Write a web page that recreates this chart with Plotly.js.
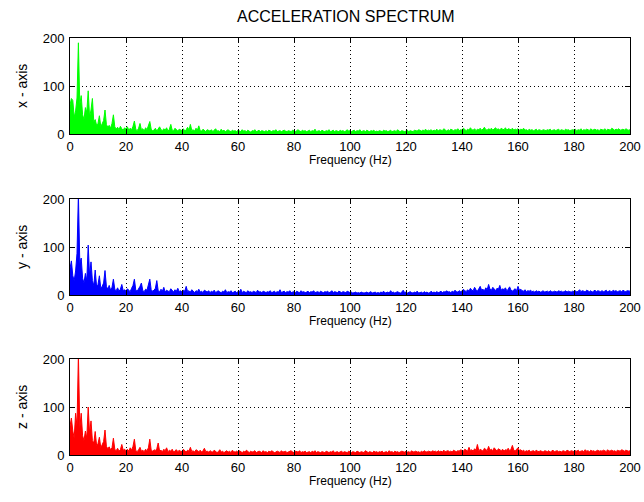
<!DOCTYPE html>
<html>
<head>
<meta charset="utf-8">
<script src="https://cdn.plot.ly/plotly-3.0.1.min.js"></script>
<style>html,body{margin:0;padding:0;background:#fff;}#chart{width:644px;height:502px;}</style>
</head>
<body>
<div id="chart"></div>
<script>
// Frequency grid: spectrum sampled every 0.5 Hz from 0 to 200 Hz
const freqStart = 0;
const freqStep = 0.5;

const xTickVals = [0, 20, 40, 60, 80, 100, 120, 140, 160, 180, 200];
const yTickVals = [0, 100, 200];

const seriesNames = ["x - axis", "y - axis", "z - axis"];
const xTitle = "Frequency (Hz)";
const seriesColors = ["#00ff00", "#0000ff", "#ff0000"];

// x-axis acceleration magnitude (one value per 0.5 Hz)
const accX = [
 60,74,70,35,48,75,190,60,80,40,30,55,45,90,35,50,74,25,30,18,
 22,38,15,20,28,50,20,14,18,12,22,40,15,10,14,9,16,11,8,13,
 10,15,8,12,9,16,27,10,7,12,22,9,11,6,13,9,18,26,10,7,
 8,12,6,10,15,9,7,11,8,13,6,10,20,8,7,12,9,6,10,8,
 7,11,6,9,14,8,20,7,9,6,12,8,17,7,6,10,8,5,9,7,
 6,9,5,8,11,6,7,5,10,6,8,5,7,9,6,5,8,6,7,5,
 8,6,5,9,6,7,5,8,6,4,7,6,9,5,6,8,5,7,6,5,
 7,5,8,6,5,7,6,9,5,6,7,5,6,8,6,5,7,6,5,8,
 6,5,7,9,6,5,8,6,7,5,6,8,5,7,6,10,5,6,7,5,
 8,6,5,7,6,9,5,6,8,5,7,6,5,8,6,7,5,6,9,6,
 7,5,6,8,5,7,6,9,5,6,7,5,8,6,5,7,6,8,5,6,
 5,7,6,5,8,6,7,5,6,8,5,6,7,5,9,6,5,7,6,5,
 6,8,5,7,6,5,8,7,6,9,7,6,8,7,10,6,8,7,9,6,
 8,7,10,6,9,8,7,11,8,6,9,7,10,8,7,9,8,11,7,9,
 8,12,9,7,10,8,13,9,8,11,7,10,9,12,8,10,14,9,8,11,
 9,12,8,10,13,9,11,8,12,10,9,13,8,11,10,9,12,8,10,9,
 11,8,10,9,12,8,9,7,10,8,9,7,8,10,7,9,8,7,9,8,
 7,9,8,10,7,8,9,7,8,10,7,9,8,7,10,8,9,7,8,9,
 8,10,7,9,8,11,7,9,8,10,9,7,11,8,9,10,8,9,7,10,
 9,8,11,7,10,9,8,12,9,8,10,9,11,8,9,10,8,11,9,8,
 9
];

// y-axis acceleration magnitude
const accY = [
 55,71,40,30,50,87,210,65,77,35,25,45,30,104,40,69,30,20,52,18,
 22,40,14,18,25,51,18,12,20,10,16,33,12,9,15,8,12,22,9,11,
 8,13,10,7,14,20,33,10,8,12,18,25,9,7,12,10,20,33,11,8,
 10,14,30,9,7,12,8,16,6,10,8,7,13,9,6,11,8,14,7,9,
 6,10,8,18,7,9,6,11,8,5,9,7,12,6,8,5,10,7,6,9,
 5,8,6,10,5,7,9,6,5,8,6,11,5,7,6,9,5,6,8,5,
 7,6,12,5,8,6,5,9,6,7,5,8,6,5,10,6,7,5,8,6,
 5,7,6,9,5,6,8,5,7,6,11,5,6,8,5,7,6,9,5,6,
 7,5,8,6,5,9,6,7,5,6,8,5,7,6,9,5,6,7,5,8,
 6,5,7,6,8,5,6,9,5,7,6,5,8,6,5,7,6,5,8,6,
 5,6,4,5,6,4,5,4,6,5,4,5,6,4,5,7,4,5,6,4,
 5,4,6,5,8,4,5,6,4,9,5,6,4,5,7,5,4,6,10,5,
 6,4,5,7,5,4,6,5,8,4,5,6,4,7,5,6,4,5,8,5,
 6,5,7,5,6,8,5,7,6,9,6,7,5,8,6,10,7,6,9,7,
 8,12,9,7,11,8,14,10,9,16,11,8,13,18,10,12,9,15,11,22,
 12,10,16,11,9,14,12,20,10,13,11,15,9,12,17,10,8,11,13,9,
 18,10,12,9,8,11,7,9,8,10,7,8,6,9,7,8,6,7,9,6,
 7,8,6,9,7,6,8,7,6,9,7,8,6,7,9,6,8,7,6,8,
 7,9,6,8,11,7,9,8,6,10,8,7,9,6,8,10,7,9,8,7,
 9,7,8,10,6,9,8,7,10,8,9,7,8,9,7,10,8,7,9,8,
 8
];

// z-axis acceleration magnitude
const accZ = [
 60,77,50,35,87,60,210,55,87,40,30,50,35,100,45,71,30,25,49,20,
 24,37,15,20,28,52,18,13,17,11,15,35,12,9,14,8,11,22,10,12,
 9,12,8,15,10,18,33,9,7,11,16,8,10,7,12,9,15,33,10,8,
 11,9,13,25,8,10,7,12,9,15,7,10,8,12,6,9,11,7,10,8,
 7,12,9,6,10,8,16,7,9,6,11,8,7,10,6,9,14,7,8,6,
 9,7,6,10,8,5,7,11,6,8,5,7,9,6,8,5,10,7,6,8,
 6,9,7,5,8,6,10,7,5,8,6,7,9,5,6,8,7,5,9,6,
 7,5,8,6,9,7,5,6,8,7,5,9,6,7,8,5,6,7,9,6,
 5,8,7,6,9,5,7,6,8,5,6,7,5,8,6,9,5,7,6,5,
 7,6,5,8,6,5,7,6,9,5,6,7,5,6,8,5,7,6,5,8,
 6,5,7,6,5,8,6,5,7,6,5,9,6,5,7,6,5,8,6,7,
 5,7,6,8,5,6,7,5,9,6,7,5,8,6,7,5,6,8,7,6,
 8,6,7,5,9,6,7,8,6,7,5,8,6,9,7,6,8,7,6,9,
 7,8,6,9,7,8,6,10,7,8,9,7,8,6,10,8,7,9,8,11,
 9,8,12,10,8,16,9,11,8,13,10,22,9,12,10,8,14,11,9,18,
 10,12,9,15,11,8,13,10,9,12,8,11,10,14,9,12,20,10,8,12,
 15,9,11,8,10,7,9,8,10,7,8,9,7,10,8,7,9,8,6,9,
 8,7,9,6,8,10,7,8,9,7,8,6,9,8,7,10,8,7,9,8,
 7,9,8,10,7,8,9,7,11,8,9,7,10,8,9,7,8,10,8,9,
 8,10,9,7,11,8,9,10,8,9,7,10,9,8,11,9,8,10,9,8,
 9
];

const allSeries = [accX, accY, accZ];
const font = "Liberation Sans, Arial, Helvetica, sans-serif";

const traces = allSeries.map((vals, i) => ({
  type: "scatter",
  mode: "lines",
  x0: freqStart,
  dx: freqStep,
  y: vals,
  xaxis: i === 0 ? "x" : "x" + (i + 1),
  yaxis: i === 0 ? "y" : "y" + (i + 1),
  line: {color: seriesColors[i], width: 1},
  fill: "tozeroy",
  fillcolor: seriesColors[i],
  hoverinfo: "skip",
  showlegend: false
}));

// pixel geometry of the three panels (plot area spans y 38..455, x 70..630)
const H = 417;
const panelTop = [38, 199, 359];
const panelBottom = [134, 295, 455];
const domains = panelTop.map((t, i) => [(455 - panelBottom[i]) / H, (455 - t) / H]);

function xAxis(i) {
  return {
    domain: [0, 1],
    anchor: i === 0 ? "y" : "y" + (i + 1),
    range: [0, 200],
    tickvals: xTickVals,
    ticktext: xTickVals.map(String),
    ticks: "inside",
    ticklen: 5,
    tickcolor: "#000",
    showline: true,
    linecolor: "#000",
    linewidth: 1,
    mirror: "ticks",
    showgrid: true,
    gridcolor: "#000",
    gridwidth: 1,
    griddash: "1px,3px",
    zeroline: false,
    tickfont: {family: font, size: 13, color: "#000"},
    automargin: false
  };
}
function yAxis(i) {
  return {
    domain: domains[i],
    anchor: i === 0 ? "x" : "x" + (i + 1),
    range: [0, 200],
    tickvals: yTickVals,
    ticktext: yTickVals.map(String),
    ticks: "inside",
    ticklen: 5,
    tickcolor: "#000",
    showline: true,
    linecolor: "#000",
    linewidth: 1,
    mirror: "ticks",
    showgrid: true,
    gridcolor: "#000",
    gridwidth: 1,
    griddash: "1px,3px",
    zeroline: false,
    ticklabelstandoff: 2,
    tickfont: {family: font, size: 13, color: "#000"},
    automargin: false
  };
}

const annotations = [];
for (let i = 0; i < 3; i++) {
  annotations.push({
    text: xTitle, xref: "paper", yref: "paper", x: 0.5,
    y: (455 - (panelBottom[i] + 26)) / H, xanchor: "center", yanchor: "middle",
    showarrow: false, font: {family: font, size: 12, color: "#000"}
  });
  annotations.push({
    text: seriesNames[i], xref: "paper", yref: "paper", x: (22 - 70) / 560,
    y: (455 - (panelTop[i] + panelBottom[i]) / 2) / H, xanchor: "center", yanchor: "middle",
    textangle: -90, showarrow: false, font: {family: font, size: 14, color: "#000"}
  });
}

const layout = {
  width: 644,
  height: 502,
  margin: {l: 70, r: 14, t: 38, b: 47},
  paper_bgcolor: "#fff",
  plot_bgcolor: "#fff",
  title: {text: "ACCELERATION SPECTRUM", font: {family: font, size: 16, color: "#000"}, x: 0.537, xanchor: "center", xref: "container", y: 0.968, yanchor: "middle", yref: "container"},
  showlegend: false,
  annotations: annotations,
  xaxis: xAxis(0), yaxis: yAxis(0),
  xaxis2: xAxis(1), yaxis2: yAxis(1),
  xaxis3: xAxis(2), yaxis3: yAxis(2)
};

Plotly.newPlot("chart", traces, layout, {displayModeBar: false, staticPlot: true});
</script>
</body>
</html>
